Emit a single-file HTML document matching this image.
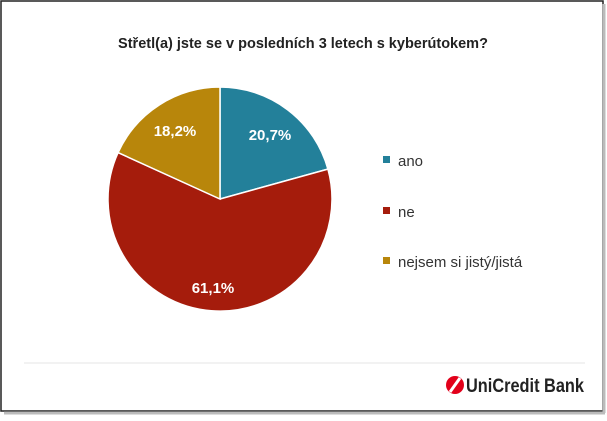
<!DOCTYPE html>
<html><head><meta charset="utf-8"><style>
body{margin:0;background:#fff;width:607px;height:416px;overflow:hidden;font-family:"Liberation Sans",sans-serif}
</style></head><body>
<svg width="607" height="416" viewBox="0 0 607 416" xmlns="http://www.w3.org/2000/svg">
<rect x="0" y="0" width="607" height="416" fill="#fff"/>
<rect x="1" y="1" width="602" height="410" fill="#fff" stroke="#222" stroke-width="1.5"/>
<line x1="604" y1="4" x2="604" y2="413" stroke="#bbb" stroke-width="3"/>
<line x1="4" y1="413" x2="605" y2="413" stroke="#bbb" stroke-width="3"/>
<text x="303" y="48" text-anchor="middle" font-size="14.5" font-weight="bold" fill="#222">Střetl(a) jste se v posledních 3 letech s kyberútokem?</text>
<g stroke="#fff" stroke-width="1.5">
<path d="M220,199 L220,87 A112,112 0 0 1 327.9,169.1 Z" fill="#23809a"/>
<path d="M220,199 L327.9,169.1 A112,112 0 1 1 118.1,152.6 Z" fill="#a51c0c"/>
<path d="M220,199 L118.1,152.6 A112,112 0 0 1 220,87 Z" fill="#b8860b"/>
</g>
<g font-size="15" font-weight="bold" fill="#fff" text-anchor="middle">
<text x="270" y="140">20,7%</text>
<text x="175" y="136">18,2%</text>
<text x="213" y="293">61,1%</text>
</g>
<rect x="383" y="156" width="7" height="7" fill="#23809a"/>
<rect x="383" y="207" width="7" height="7" fill="#a51c0c"/>
<rect x="383" y="257" width="7" height="7" fill="#b8860b"/>
<g font-size="15" fill="#333">
<text x="398" y="166">ano</text>
<text x="398" y="217">ne</text>
<text x="398" y="267">nejsem si jistý/jistá</text>
</g>
<line x1="24" y1="363" x2="585" y2="363" stroke="#e4e4e4" stroke-width="1"/>
<circle cx="455" cy="385" r="9" fill="#e2001a"/>
<path d="M450,392 L460,378" stroke="#fff" stroke-width="3"/>
<text x="584" y="392" text-anchor="end" font-size="19" font-weight="bold" fill="#222" textLength="118" lengthAdjust="spacingAndGlyphs">UniCredit Bank</text>
</svg>
</body></html>
